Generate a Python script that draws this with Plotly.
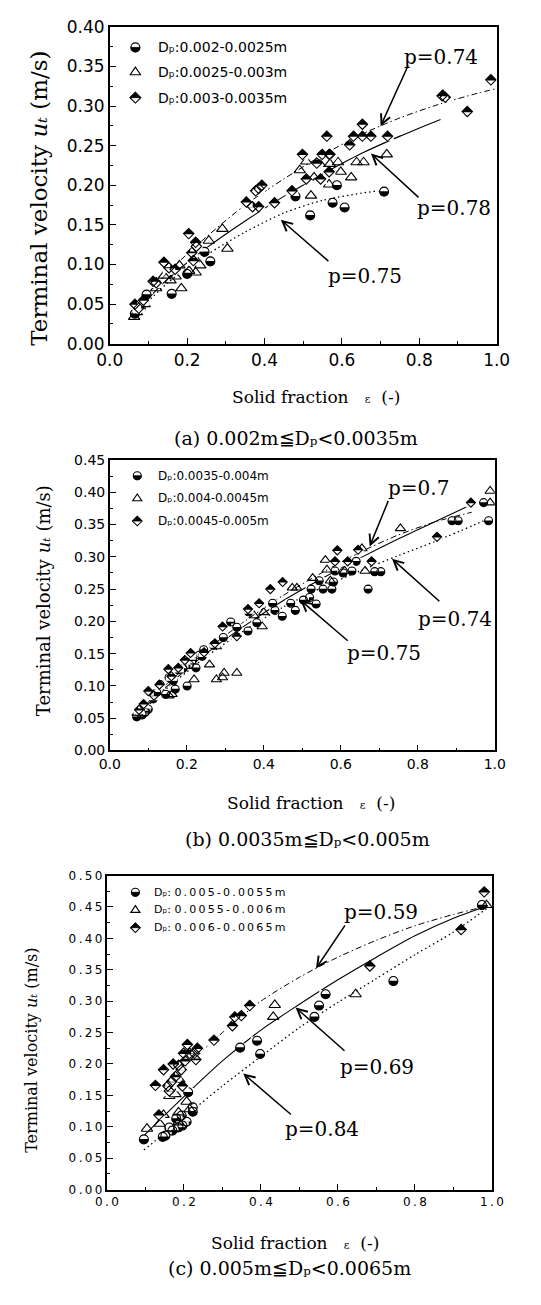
import plotly.graph_objects as go

W, H = 541, 1305

# ---------------- Panel (a) data ----------------
a_circ_x = [0.065, 0.08, 0.095, 0.16, 0.2, 0.22, 0.245, 0.26, 0.48, 0.518, 0.576, 0.587, 0.607, 0.709]
a_circ_y = [0.038, 0.045, 0.062, 0.063, 0.088, 0.105, 0.116, 0.104, 0.186, 0.162, 0.178, 0.2, 0.172, 0.192]
a_tri_x = [0.063, 0.07, 0.09, 0.12, 0.14, 0.157, 0.17, 0.185, 0.18, 0.205, 0.222, 0.234, 0.256, 0.291, 0.304,
           0.491, 0.508, 0.52, 0.528, 0.543, 0.567, 0.569, 0.59, 0.597, 0.624, 0.638, 0.656, 0.716, 0.861]
a_tri_y = [0.034, 0.04, 0.05, 0.07, 0.086, 0.08, 0.085, 0.07, 0.099, 0.092, 0.09, 0.099, 0.13, 0.145, 0.12,
           0.219, 0.23, 0.187, 0.21, 0.227, 0.201, 0.227, 0.229, 0.217, 0.21, 0.229, 0.229, 0.239, 0.314]
a_dia_x = [0.065, 0.075, 0.087, 0.112, 0.12, 0.14, 0.153, 0.169, 0.204, 0.212, 0.216, 0.222, 0.224, 0.353, 0.369,
           0.377, 0.385, 0.385, 0.393, 0.426, 0.471, 0.498, 0.508, 0.535, 0.545, 0.549, 0.561, 0.567, 0.567, 0.569,
           0.62, 0.63, 0.653, 0.653, 0.675, 0.718, 0.859, 0.867, 0.924, 0.985]
a_dia_y = [0.05, 0.045, 0.055, 0.079, 0.077, 0.103, 0.096, 0.094, 0.139, 0.115, 0.105, 0.128, 0.123, 0.179, 0.173,
           0.193, 0.196, 0.173, 0.2, 0.178, 0.193, 0.239, 0.208, 0.228, 0.208, 0.239, 0.262, 0.239, 0.217, 0.239,
           0.251, 0.262, 0.277, 0.262, 0.262, 0.262, 0.313, 0.311, 0.293, 0.333]
a_dashdot_x = [0.065, 0.15, 0.25, 0.35, 0.45, 0.55, 0.65, 0.75, 0.85, 0.95, 1.0]
a_dashdot_y = [0.044, 0.09, 0.135, 0.175, 0.208, 0.238, 0.264, 0.285, 0.302, 0.316, 0.322]
a_solid_x = [0.065, 0.15, 0.25, 0.35, 0.45, 0.55, 0.65, 0.75, 0.855]
a_solid_y = [0.039, 0.082, 0.121, 0.155, 0.186, 0.214, 0.24, 0.262, 0.283]
a_dot_x = [0.065, 0.15, 0.25, 0.35, 0.45, 0.55, 0.65, 0.709]
a_dot_y = [0.036, 0.077, 0.112, 0.141, 0.165, 0.181, 0.19, 0.194]
a_labels = ["p=0.74", "p=0.78", "p=0.75"]
a_label_x = [0.855, 0.891, 0.659]
a_label_y = [0.3615, 0.171, 0.086]
a_arrow_tail_x = [0.773, 0.802, 0.569]
a_arrow_tail_y = [0.353, 0.183, 0.1027]
a_arrow_head_x = [0.7, 0.675, 0.442]
a_arrow_head_y = [0.2745, 0.24, 0.1565]
a_legend = ["0.002-0.0025m", "0.0025-0.003m", "0.003-0.0035m"]

# ---------------- Panel (b) data ----------------
b_circ_x = [0.07, 0.076, 0.084, 0.092, 0.1, 0.113, 0.131, 0.145, 0.154, 0.17, 0.178, 0.201, 0.207, 0.224, 0.24,
            0.244, 0.314, 0.33, 0.359, 0.382, 0.423, 0.429, 0.448, 0.47, 0.482, 0.503, 0.519, 0.523, 0.536, 0.544,
            0.554, 0.577, 0.581, 0.585, 0.606, 0.629, 0.64, 0.671, 0.688, 0.704, 0.889, 0.905, 0.971, 0.984,
            0.122, 0.165, 0.19, 0.215, 0.233, 0.27, 0.295, 0.36]
b_circ_y = [0.052, 0.059, 0.055, 0.059, 0.064, 0.08, 0.102, 0.087, 0.113, 0.095, 0.125, 0.1, 0.133, 0.128, 0.146,
            0.156, 0.199, 0.191, 0.185, 0.198, 0.228, 0.217, 0.208, 0.228, 0.217, 0.233, 0.237, 0.25, 0.227, 0.263,
            0.25, 0.25, 0.261, 0.278, 0.275, 0.278, 0.293, 0.25, 0.277, 0.277, 0.356, 0.356, 0.384, 0.356,
            0.09, 0.108, 0.127, 0.14, 0.148, 0.163, 0.175, 0.215]
b_tri_x = [0.071, 0.092, 0.154, 0.162, 0.219, 0.259, 0.277, 0.293, 0.297, 0.33, 0.277, 0.375, 0.396, 0.4, 0.474,
           0.486, 0.527, 0.56, 0.564, 0.573, 0.61, 0.655, 0.663, 0.755, 0.988, 0.988]
b_tri_y = [0.058, 0.064, 0.085, 0.087, 0.11, 0.133, 0.11, 0.113, 0.12, 0.12, 0.161, 0.209, 0.192, 0.214, 0.252,
           0.252, 0.267, 0.295, 0.28, 0.263, 0.278, 0.313, 0.278, 0.344, 0.402, 0.384]
b_dia_x = [0.076, 0.088, 0.1, 0.129, 0.152, 0.16, 0.178, 0.21, 0.273, 0.293, 0.33, 0.359, 0.388, 0.417, 0.449,
           0.585, 0.591, 0.618, 0.645, 0.68, 0.85, 0.938, 0.115, 0.195, 0.245]
b_dia_y = [0.063, 0.072, 0.092, 0.102, 0.126, 0.115, 0.128, 0.151, 0.166, 0.192, 0.177, 0.219, 0.228, 0.25, 0.261,
           0.293, 0.31, 0.293, 0.311, 0.293, 0.331, 0.384, 0.085, 0.14, 0.152]
b_dashdot_x = [0.07, 0.15, 0.25, 0.35, 0.45, 0.55, 0.65, 0.75, 0.85, 0.94]
b_dashdot_y = [0.057, 0.104, 0.155, 0.2, 0.24, 0.275, 0.307, 0.334, 0.355, 0.369]
b_solid_x = [0.07, 0.15, 0.25, 0.35, 0.45, 0.55, 0.65, 0.75, 0.85, 0.94]
b_solid_y = [0.055, 0.1, 0.15, 0.193, 0.232, 0.266, 0.298, 0.328, 0.356, 0.381]
b_dot_x = [0.07, 0.15, 0.25, 0.35, 0.45, 0.55, 0.65, 0.75, 0.85, 0.984]
b_dot_y = [0.053, 0.097, 0.145, 0.186, 0.222, 0.252, 0.278, 0.302, 0.325, 0.359]
b_labels = ["p=0.7", "p=0.74", "p=0.75"]
b_label_x = [0.803, 0.897, 0.712]
b_label_y = [0.407, 0.204, 0.151]
b_arrow_tail_x = [0.725, 0.86, 0.622]
b_arrow_tail_y = [0.389, 0.229, 0.168]
b_arrow_head_x = [0.675, 0.733, 0.495]
b_arrow_head_y = [0.316, 0.297, 0.233]
b_legend = ["0.0035-0.004m", "0.004-0.0045m", "0.0045-0.005m"]

# ---------------- Panel (c) data ----------------
c_circ_x = [0.096, 0.145, 0.152, 0.162, 0.17, 0.18, 0.186, 0.194, 0.196, 0.207, 0.211, 0.223, 0.223, 0.346, 0.39,
            0.398, 0.539, 0.551, 0.568, 0.744, 0.974]
c_circ_y = [0.08, 0.084, 0.086, 0.099, 0.094, 0.113, 0.099, 0.118, 0.102, 0.108, 0.155, 0.124, 0.131, 0.226, 0.237,
            0.216, 0.275, 0.293, 0.311, 0.332, 0.453]
c_tri_x = [0.104, 0.137, 0.147, 0.162, 0.178, 0.186, 0.186, 0.207, 0.215, 0.188, 0.436, 0.432, 0.646, 0.986]
c_tri_y = [0.097, 0.105, 0.119, 0.149, 0.152, 0.123, 0.107, 0.14, 0.128, 0.175, 0.294, 0.275, 0.311, 0.453]
c_dia_x = [0.126, 0.135, 0.147, 0.158, 0.162, 0.168, 0.172, 0.178, 0.186, 0.193, 0.196, 0.199, 0.203, 0.209, 0.215,
           0.227, 0.231, 0.235, 0.278, 0.326, 0.332, 0.349, 0.371, 0.683, 0.92, 0.98]
c_dia_y = [0.166, 0.119, 0.191, 0.165, 0.157, 0.172, 0.2, 0.18, 0.198, 0.191, 0.165, 0.217, 0.205, 0.231, 0.217,
           0.217, 0.207, 0.225, 0.238, 0.261, 0.275, 0.277, 0.293, 0.356, 0.414, 0.474]
c_dashdot_x = [0.14, 0.2, 0.3, 0.4, 0.5, 0.6, 0.7, 0.8, 0.9, 0.99]
c_dashdot_y = [0.157, 0.193, 0.25, 0.3, 0.338, 0.37, 0.397, 0.42, 0.438, 0.452]
c_solid_x = [0.096, 0.2, 0.3, 0.4, 0.5, 0.6, 0.7, 0.8, 0.9, 0.99]
c_solid_y = [0.086, 0.148, 0.205, 0.254, 0.295, 0.334, 0.37, 0.404, 0.432, 0.452]
c_dot_x = [0.096, 0.2, 0.3, 0.4, 0.5, 0.6, 0.7, 0.8, 0.9, 0.99]
c_dot_y = [0.063, 0.115, 0.165, 0.212, 0.258, 0.298, 0.336, 0.374, 0.41, 0.449]
c_labels = ["p=0.59", "p=0.69", "p=0.84"]
c_label_x = [0.711, 0.701, 0.559]
c_label_y = [0.4425, 0.196, 0.097]
c_arrow_tail_x = [0.621, 0.621, 0.482]
c_arrow_tail_y = [0.423, 0.219, 0.1175]
c_arrow_head_x = [0.543, 0.49, 0.354]
c_arrow_head_y = [0.352, 0.29, 0.185]
c_legend = ["0.005-0.0055m", "0.0055-0.006m", "0.006-0.0065m"]

DP = "D\u209a"  # D with subscript p
captions = [f"(a) 0.002m≦{DP}&lt;0.0035m",
            f"(b) 0.0035m≦{DP}&lt;0.005m",
            f"(c) 0.005m≦{DP}&lt;0.0065m"]
y_title = "Terminal velocity <i>u\u209c</i> (m/s)"

y_ranges = [0.40, 0.45, 0.50]
x_ticks = [0.0, 0.2, 0.4, 0.6, 0.8, 1.0]

SERIF = "DejaVu Serif"
SANS = "DejaVu Sans"
THIN = "\u2009"


def px(x):
    return x / W


def py(y):
    return 1 - y / H


def spaced(s):
    return THIN.join(s)


panels = [
    dict(xa="x", ya="y", dx=(101, 509), dy=(17, 339), ymax=y_ranges[0],
         circ=(a_circ_x, a_circ_y), tri=(a_tri_x, a_tri_y), dia=(a_dia_x, a_dia_y),
         dashdot=(a_dashdot_x, a_dashdot_y), solid=(a_solid_x, a_solid_y), dot=(a_dot_x, a_dot_y),
         labels=(a_labels, a_label_x, a_label_y),
         arrows=(a_arrow_tail_x, a_arrow_tail_y, a_arrow_head_x, a_arrow_head_y),
         legend=a_legend, leg_rows=(38, 63, 89), leg_sym_x=128, leg_txt_x=150, leg_font=14, leg_spaced=False,
         tick_font=17, tick_spaced=False, ytitle_size=23, ytitle_pos=(26, 191), xtitle_size=17, xtitle_pos=(318, 393),
         caption_pos=(297, 435), axis_w=1.5, msize=9),
    dict(xa="x2", ya="y2", dx=(101, 507), dy=(457, 752), ymax=y_ranges[1],
         circ=(b_circ_x, b_circ_y), tri=(b_tri_x, b_tri_y), dia=(b_dia_x, b_dia_y),
         dashdot=(b_dashdot_x, b_dashdot_y), solid=(b_solid_x, b_solid_y), dot=(b_dot_x, b_dot_y),
         labels=(b_labels, b_label_x, b_label_y),
         arrows=(b_arrow_tail_x, b_arrow_tail_y, b_arrow_head_x, b_arrow_head_y),
         legend=b_legend, leg_rows=(473, 496, 519), leg_sym_x=130, leg_txt_x=150, leg_font=12, leg_spaced=False,
         tick_font=14, tick_spaced=False, ytitle_size=18, ytitle_pos=(31, 600), xtitle_size=17, xtitle_pos=(313, 805),
         caption_pos=(310, 842), axis_w=1.5, msize=8),
    dict(xa="x3", ya="y3", dx=(98, 504), dy=(879, 1198), ymax=y_ranges[2],
         circ=(c_circ_x, c_circ_y), tri=(c_tri_x, c_tri_y), dia=(c_dia_x, c_dia_y),
         dashdot=(c_dashdot_x, c_dashdot_y), solid=(c_solid_x, c_solid_y), dot=(c_dot_x, c_dot_y),
         labels=(c_labels, c_label_x, c_label_y),
         arrows=(c_arrow_tail_x, c_arrow_tail_y, c_arrow_head_x, c_arrow_head_y),
         legend=c_legend, leg_rows=(896, 914, 932), leg_sym_x=128, leg_txt_x=146, leg_font=11, leg_spaced=True,
         tick_font=12, tick_spaced=True, ytitle_size=16, ytitle_pos=(19, 1057), xtitle_size=17, xtitle_pos=(296, 1252),
         caption_pos=(291, 1278), axis_w=2, msize=9),
]

fig = go.Figure()
shapes = []
annotations = []


def add_marks(xs, ys, kind, xa, ya, s):
    base = dict(x=xs, y=ys, mode="markers", xaxis=xa, yaxis=ya, showlegend=False, hoverinfo="skip")
    if kind == "circ":
        fig.add_trace(go.Scatter(**base, marker=dict(symbol="circle", size=s, color="black", line=dict(width=0))))
        fig.add_trace(go.Scatter(**base, marker=dict(symbol="line-ew", size=s, color="white", angle=180,
                                                     standoff=s / 4, line=dict(color="white", width=s / 2 - 0.6))))
        fig.add_trace(go.Scatter(**base, marker=dict(symbol="circle-open", size=s, color="black",
                                                     line=dict(color="black", width=1.1))))
    elif kind == "tri":
        fig.add_trace(go.Scatter(**base, marker=dict(symbol="triangle-up-open", size=s + 1, color="black",
                                                     line=dict(color="black", width=1.1))))
    else:
        fig.add_trace(go.Scatter(**base, marker=dict(symbol="diamond", size=s - 1, color="black", line=dict(width=0))))
        fig.add_trace(go.Scatter(**base, marker=dict(symbol="line-ew", size=s, color="white", angle=0,
                                                     standoff=0.325 * (s - 1) + 0.3,
                                                     line=dict(color="white", width=0.65 * (s - 1) - 0.6))))
        fig.add_trace(go.Scatter(**base, marker=dict(symbol="diamond-open", size=s - 1, color="black",
                                                     line=dict(color="black", width=1.1))))


def legend_symbol(kind, x, y, s):
    common = dict(xref="paper", yref="paper", xsizemode="pixel", ysizemode="pixel",
                  xanchor=px(x), yanchor=py(y))
    r = s / 2
    if kind == "circ":
        shapes.append(dict(type="circle", x0=-r, x1=r, y0=-r, y1=r, fillcolor="white",
                           line=dict(color="black", width=1.1), **common))
        k = 4 * r / 3
        shapes.append(dict(type="path", path=f"M{-r},0 C{-r},{-k} {r},{-k} {r},0 Z",
                           fillcolor="black", line=dict(color="black", width=0.8), **common))
    elif kind == "tri":
        t = r * 1.15
        shapes.append(dict(type="path", path=f"M{-t},{-r * 0.6} L{t},{-r * 0.6} L0,{r * 1.1} Z",
                           fillcolor="rgba(0,0,0,0)", line=dict(color="black", width=1.1), **common))
    else:
        d = r * 1.2
        shapes.append(dict(type="path", path=f"M{-d},0 L0,{d} L{d},0 L0,{-d} Z",
                           fillcolor="white", line=dict(color="black", width=1.1), **common))
        shapes.append(dict(type="path", path=f"M{-d},0 L0,{d} L{d},0 Z",
                           fillcolor="black", line=dict(color="black", width=0.8), **common))


def paper_text(text, x, y, size, family, angle=0, xanchor="center"):
    annotations.append(dict(text=text, x=px(x), y=py(y), xref="paper", yref="paper", showarrow=False,
                            xanchor=xanchor, yanchor="middle", textangle=angle,
                            font=dict(family=family, size=size, color="black")))


for i, p in enumerate(panels):
    xa, ya = p["xa"], p["ya"]
    s = p["msize"]
    # curves
    for key, dash, lw in (("dashdot", "6px,3px,1.5px,3px", 1.0), ("solid", "solid", 1.1), ("dot", "1.5px,3px", 1.3)):
        cx, cy = p[key]
        fig.add_trace(go.Scatter(x=cx, y=cy, mode="lines", xaxis=xa, yaxis=ya, showlegend=False,
                                 hoverinfo="skip", line=dict(color="black", width=lw, dash=dash, shape="spline",
                                                             smoothing=0.8)))
    add_marks(*p["circ"], "circ", xa, ya, s)
    add_marks(*p["tri"], "tri", xa, ya, s)
    add_marks(*p["dia"], "dia", xa, ya, s)

    # p labels and arrows
    labs, lx, ly = p["labels"]
    for t, x, y in zip(labs, lx, ly):
        annotations.append(dict(text=t, x=x, y=y, xref=xa, yref=ya, showarrow=False,
                                xanchor="center", yanchor="middle",
                                font=dict(family=SERIF, size=20, color="black")))
    tx, ty, hx, hy = p["arrows"]
    for x0, y0, x1, y1 in zip(tx, ty, hx, hy):
        annotations.append(dict(text="", x=x1, y=y1, ax=x0, ay=y0, xref=xa, yref=ya, axref=xa, ayref=ya,
                                showarrow=True, arrowhead=5, arrowsize=1.3, arrowwidth=1.5, arrowcolor="black"))

    # legend
    for kind, row, lab in zip(("circ", "tri", "dia"), p["leg_rows"], p["legend"]):
        legend_symbol(kind, p["leg_sym_x"], row, s - 1 if p["leg_spaced"] else s)
        body = spaced(lab) if p["leg_spaced"] else lab
        sep = ":" + (" " if p["leg_spaced"] else "")
        paper_text(f"{DP}{sep}{body}", p["leg_txt_x"], row, p["leg_font"], SANS, xanchor="left")

    # axis titles and caption
    paper_text(y_title, p["ytitle_pos"][0], p["ytitle_pos"][1], p["ytitle_size"], SERIF, angle=-90)
    paper_text("Solid fraction   <span style='font-size:11px'>ε</span>  (-)", p["xtitle_pos"][0],
               p["xtitle_pos"][1], p["xtitle_size"], SERIF)
    paper_text(captions[i], p["caption_pos"][0], p["caption_pos"][1], 19, SERIF)

    # axes
    ymax = p["ymax"]
    y_vals = [round(k * 0.05, 2) for k in range(int(round(ymax / 0.05)) + 1)]
    if p["tick_spaced"]:
        y_text = [spaced(f"{v:.2f}") for v in y_vals]
        x_text = [spaced(f"{v:.1f}") for v in x_ticks]
    else:
        y_text = [f"{v:.2f}" for v in y_vals]
        x_text = [f"{v:.1f}" for v in x_ticks]
    axis_common = dict(showline=True, linecolor="black", linewidth=p["axis_w"], mirror=True, ticks="inside",
                       ticklen=6, tickwidth=1.3, tickcolor="black", showgrid=False, zeroline=False,
                       tickfont=dict(family=SANS, size=p["tick_font"], color="black"))
    xkey = "xaxis" if xa == "x" else "xaxis" + xa[1:]
    ykey = "yaxis" if ya == "y" else "yaxis" + ya[1:]
    fig.update_layout(**{
        xkey: dict(domain=[px(p["dx"][0]), px(p["dx"][1])], range=[0, 1.0], anchor=ya,
                   tickvals=x_ticks, ticktext=x_text,
                   minor=dict(ticks="inside", ticklen=3, tickwidth=1.1, tickcolor="black", dtick=0.1,
                              showgrid=False),
                   **axis_common),
        ykey: dict(domain=[py(p["dy"][1]), py(p["dy"][0])], range=[0, ymax], anchor=xa,
                   tickvals=y_vals, ticktext=y_text,
                   minor=dict(ticks="inside", ticklen=3, tickwidth=1.1, tickcolor="black", dtick=0.025,
                              showgrid=False),
                   **axis_common),
    })

fig.update_layout(width=W, height=H, margin=dict(l=0, r=0, t=0, b=0), paper_bgcolor="white",
                  plot_bgcolor="white", showlegend=False, shapes=shapes, annotations=annotations)

fig.write_html("out.html", config={"displayModeBar": False},
               post_script=("document.documentElement.style.margin='0px';"
                            "document.documentElement.style.overflow='hidden';"
                            "document.body.style.margin='0px';document.body.style.padding='0px';"
                            "document.body.style.overflow='hidden';"))
